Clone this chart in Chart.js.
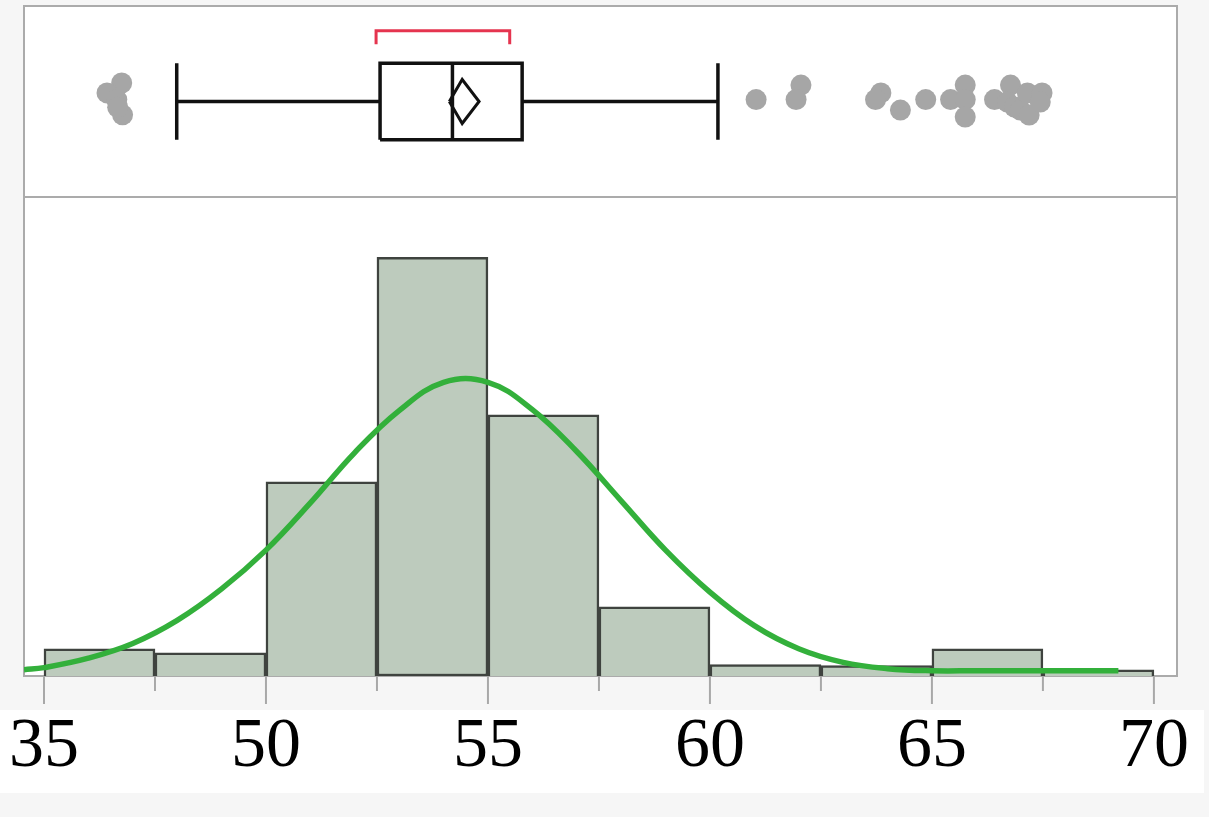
<!DOCTYPE html>
<html>
<head>
<meta charset="utf-8">
<script src="https://cdn.jsdelivr.net/npm/chart.js@4"></script>
<style>
  html, body { margin: 0; padding: 0; background: #f6f6f6; }
  #wrap { width: 1209px; height: 817px; position: relative; }
</style>
</head>
<body>
<div id="wrap"><canvas id="distChart" width="1209" height="817"></canvas></div>
<script>
// histogram bins (left edge) and heights in percent
const binStarts = [45, 47.5, 50, 52.5, 55, 57.5, 60, 62.5, 65, 67.5];
const binWidth = 2.5;
const binPercent = [2.6, 2.2, 18.5, 39.9, 24.9, 6.6, 1.1, 1.0, 2.6, 0.6];

// fitted normal curve
const curveX = [44.55, 45, 46, 47, 48, 49, 50, 51, 52, 53, 54, 55, 56, 57, 58, 59, 60, 61, 62, 63, 64, 65, 66, 67, 68, 69.2];
const curveY = [0.6, 0.8, 1.7, 3.1, 5.3, 8.3, 12.0, 16.5, 21.3, 25.3, 28.0, 28.0, 25.4, 21.4, 16.7, 12.0, 8.0, 4.8, 2.6, 1.3, 0.7, 0.5, 0.5, 0.5, 0.5, 0.5];

// box plot: whisker low, Q1, median, Q3, whisker high
const boxStats = [47.99, 52.57, 54.2, 55.77, 60.18];
const meanDiamond = [54.13, 54.42, 54.8]; // lower CI, mean, upper CI
const shortestHalf = [52.48, 55.49];

// outliers (value, jitter position)
const outlierX = [46.75, 46.42, 46.64, 46.77, 46.66,
  61.04, 62.05, 61.94, 63.85, 63.73, 64.29, 64.86, 65.42, 65.75, 65.75, 65.75,
  66.41, 66.77, 66.7, 66.86, 66.99, 67.15, 67.19, 67.48, 67.44];
const outlierY = [59.7, 54.5, 51, 43, 47,
  51, 58.6, 51, 54.5, 51, 45.5, 51, 51, 58.6, 51, 41.9,
  51, 58.6, 49.7, 47.1, 45.5, 54.5, 42.9, 54.5, 49.7];

// axis ticks
const tickValues = [45, 50, 55, 60, 65, 70];
const tickLabels = ['35', '50', '55', '60', '65', '70'];
const minorTicks = [47.5, 52.5, 57.5, 62.5, 67.5];

const [wLo, q1, med, q3, wHi] = boxStats;
const boxTop = 70, boxBot = 30, boxMid = 50;

function seg(points) {
  return points.map(p => p === null ? { x: (wLo + wHi) / 2, y: null } : { x: p[0], y: p[1] });
}

function boxLine(data, extra) {
  return Object.assign({
    type: 'line', yAxisID: 'yBox', data: data,
    borderColor: '#111', borderWidth: 3.5, pointRadius: 0,
    spanGaps: false, tension: 0, order: 1
  }, extra || {});
}

const pagePaint = {
  id: 'pagePaint',
  beforeDraw(chart) {
    const { ctx, chartArea: a } = chart;
    ctx.save();
    ctx.fillStyle = '#f6f6f6';
    ctx.fillRect(0, 0, chart.width, chart.height);
    ctx.fillStyle = '#ffffff';
    ctx.fillRect(a.left, a.top, a.right - a.left, a.bottom - a.top);
    ctx.fillRect(0, 710, 1204, 83);
    ctx.restore();
  },
  beforeDatasetsDraw(chart) {
    const { ctx, chartArea: a, scales } = chart;
    ctx.save();
    ctx.strokeStyle = '#ababab';
    ctx.lineWidth = 2;
    ctx.strokeRect(a.left, a.top, a.right - a.left, a.bottom - a.top);
    const sy = scales.yBox.getPixelForValue(0);
    ctx.beginPath();
    ctx.moveTo(a.left, sy);
    ctx.lineTo(a.right, sy);
    ctx.stroke();
    // tick marks under the plot
    ctx.strokeStyle = '#a8a8a8';
    tickValues.forEach(v => {
      const x = scales.x.getPixelForValue(v);
      ctx.beginPath(); ctx.moveTo(x, a.bottom); ctx.lineTo(x, a.bottom + 28); ctx.stroke();
    });
    minorTicks.forEach(v => {
      const x = scales.x.getPixelForValue(v);
      ctx.beginPath(); ctx.moveTo(x, a.bottom); ctx.lineTo(x, a.bottom + 15); ctx.stroke();
    });
    ctx.restore();
  }
};

new Chart(document.getElementById('distChart'), {
  type: 'bar',
  data: {
    datasets: [
      {
        type: 'line', label: 'Normal', yAxisID: 'yHist',
        data: curveX.map((x, i) => ({ x: x, y: curveY[i] })),
        borderColor: '#33b03b', borderWidth: 5.5, pointRadius: 0,
        tension: 0.4, order: 0
      },
      {
        type: 'bar', label: 'Histogram', yAxisID: 'yHist',
        data: binStarts.map((s, i) => ({ x: s + binWidth / 2, y: binPercent[i] })),
        backgroundColor: '#bdcbbd', borderColor: '#3f433f', borderWidth: 2.5,
        borderSkipped: ctx => ctx.dataIndex === 3 ? false : 'start',
        barPercentage: 1, categoryPercentage: 1, order: 2
      },
      // whiskers
      boxLine(seg([[wLo, boxMid], [q1, boxMid], null, [q3, boxMid], [wHi, boxMid]])),
      boxLine(seg([[wLo, boxBot], [wLo, boxTop], null, [wHi, boxBot], [wHi, boxTop]])),
      // box and median
      boxLine(seg([[q1, boxBot], [q3, boxBot], [q3, boxTop], [q1, boxTop], [q1, boxBot]])),
      boxLine(seg([[med, boxBot], [med, boxTop]])),
      // mean diamond
      boxLine(seg([[meanDiamond[0], boxMid], [meanDiamond[1], 61.5], [meanDiamond[2], boxMid],
        [meanDiamond[1], 38.5], [meanDiamond[0], boxMid]]), { borderWidth: 3 }),
      // shortest half bracket
      boxLine(seg([[shortestHalf[0], 80], [shortestHalf[0], 87], [shortestHalf[1], 87], [shortestHalf[1], 80]]),
        { borderColor: '#e5344f', borderWidth: 3 }),
      {
        type: 'scatter', label: 'Outliers', yAxisID: 'yBox',
        data: outlierX.map((x, i) => ({ x: x, y: outlierY[i] })),
        backgroundColor: '#a6a6a6', borderWidth: 0, pointRadius: 10.5, order: 1
      }
    ]
  },
  options: {
    responsive: false,
    animation: false,
    devicePixelRatio: 1,
    layout: { autoPadding: false, padding: { top: 6, left: 24, right: 32, bottom: 0 } },
    plugins: { legend: { display: false }, tooltip: { enabled: false } },
    scales: {
      x: {
        type: 'linear', min: 44.55, max: 70.52, offset: false,
        grid: { display: false, drawTicks: false, offset: false },
        border: { display: false },
        afterBuildTicks: scale => { scale.ticks = tickValues.map(v => ({ value: v })); },
        afterFit: scale => {
          scale.height = 141;
          scale.paddingLeft = 0;
          scale.paddingRight = 0;
        },
        ticks: {
          maxRotation: 0, autoSkip: false, padding: 30,
          color: '#000',
          font: { family: 'Liberation Serif', size: 70 },
          callback: v => tickLabels[tickValues.indexOf(v)]
        }
      },
      yHist: { type: 'linear', display: false, min: 0, max: 63.87 },
      yBox: { type: 'linear', display: false, min: -250.8, max: 100 }
    }
  },
  plugins: [pagePaint]
});
</script>
</body>
</html>
